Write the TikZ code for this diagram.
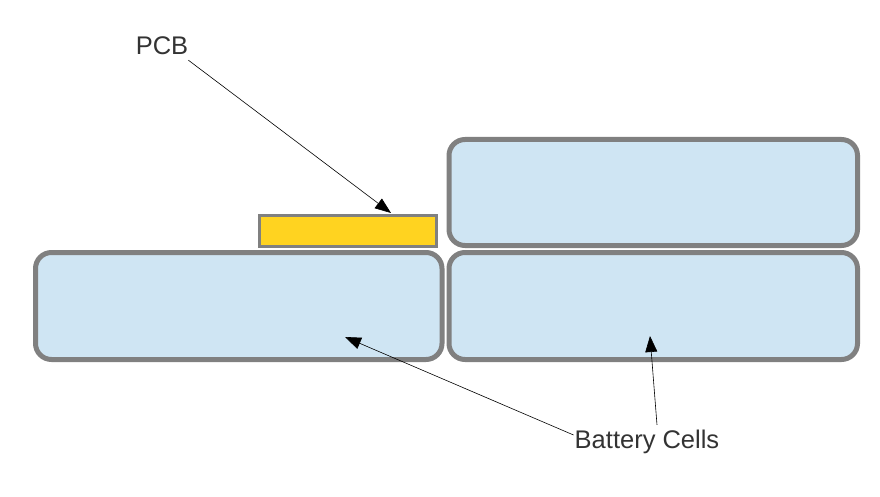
\documentclass[tikz,border=0pt]{standalone}
\usepackage{fontspec}
\setmainfont{Liberation Sans}
\usepackage{tikz}
\usetikzlibrary{arrows.meta, positioning, calc}
\definecolor{cellblue}{HTML}{CFE5F3}
\definecolor{cellrim}{HTML}{808080}
\definecolor{pcbyellow}{HTML}{FFD320}
\definecolor{labelgray}{HTML}{333333}

\begin{document}
\begin{tikzpicture}[
  x=1pt, y=-1pt,
  font=\fontsize{25.5}{30}\selectfont,
  cell/.style={rectangle, draw=cellrim, line width=5pt, rounded corners=16pt,
               fill=cellblue, minimum height=107pt, inner sep=0pt},
  board/.style={rectangle, draw=cellrim, line width=3pt, fill=pcbyellow,
                minimum width=177pt, minimum height=31pt, inner sep=0pt},
  callout/.style={text=labelgray, inner sep=0pt},
  pointer/.style={-{Triangle[length=16pt, width=12pt]}, line width=0.6pt, black},
]
  \useasboundingbox (0,0) rectangle (880,497);

  \node[cell, minimum width=406.5pt] (cellleft) at (238.75,306) {};
  \node[cell, minimum width=408.5pt] (cellright) at (653.25,306) {};
  \node[cell, minimum width=408.5pt, minimum height=106pt] (celltop) at (653.25,192.5) {};
  \node[board] (pcb) at (348,231) {};

  \node[callout] (pcblabel) at (162,46) {PCB};
  \node[callout] (cellslabel) at (647,442) {Battery Cells};

  \coordinate (pcbtip) at (391,213);
  \coordinate (lefttip) at (345,337);
  \coordinate (righttip) at (650,336);

  \draw[pointer] ($(pcblabel.south east)+(0,5)$) -- (pcbtip);
  \draw[pointer] ($(cellslabel.west)+(-1,-7)$) -- (lefttip);
  \draw[pointer] ($(cellslabel.north)+(10,-5)$) -- (righttip);
\end{tikzpicture}
\end{document}
